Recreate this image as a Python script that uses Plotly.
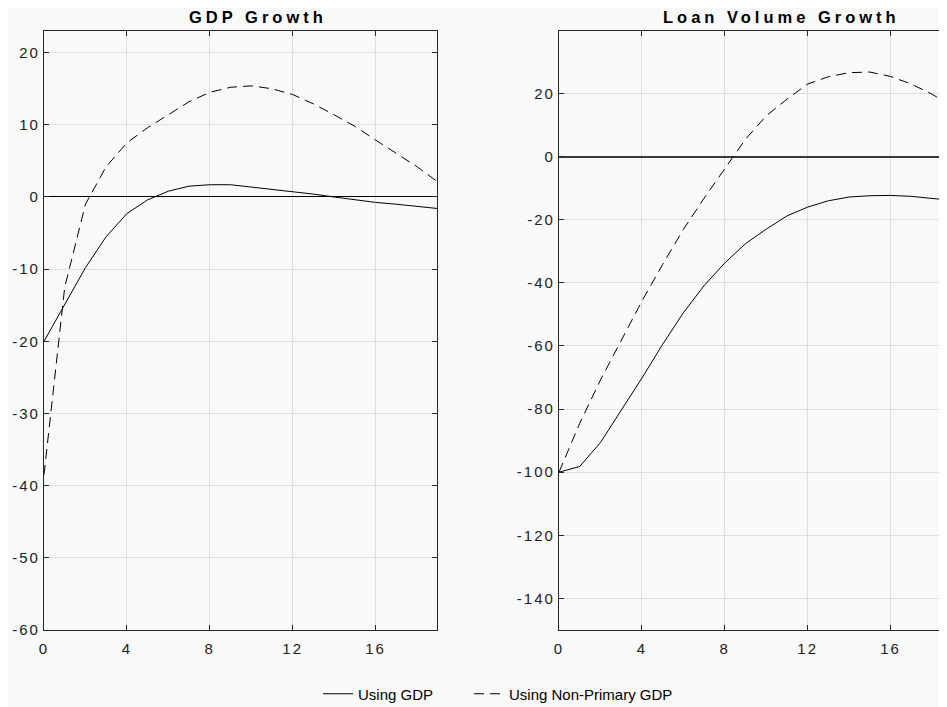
import plotly.graph_objects as go
from plotly.subplots import make_subplots

quarters = list(range(20))

gdp_using_gdp = [-20.0, -14.8, -9.8, -5.5, -2.3, -0.4, 0.8, 1.5, 1.7, 1.7,
                 1.4, 1.1, 0.8, 0.4, 0.0, -0.4, -0.75, -1.0, -1.3, -1.6]
gdp_using_nonprimary = [-38.5, -12.5, -1.0, 4.2, 7.5, 9.6, 11.4, 13.2, 14.5, 15.2,
                        15.4, 15.0, 14.2, 12.9, 11.4, 9.8, 7.9, 6.1, 4.2, 2.1]

loan_using_gdp = [-100.0, -98.2, -90.6, -80.5, -70.2, -59.5, -49.5, -40.9, -33.7, -27.6,
                  -23.0, -18.8, -16.0, -14.0, -12.8, -12.4, -12.3, -12.6, -13.2, -13.9]
loan_using_nonprimary = [-100.0, -84.5, -70.8, -58.2, -45.8, -34.2, -23.1, -13.2, -3.8, 5.5,
                         12.9, 18.2, 23.0, 25.3, 26.6, 26.8, 25.4, 23.0, 19.8, 15.8]

titles = ["GDP Growth", "Loan Volume Growth"]
series_names = ["Using GDP", "Using Non-Primary GDP"]
x_ticks = [0, 4, 8, 12, 16]
gdp_y_ticks = [-60, -50, -40, -30, -20, -10, 0, 10, 20]
loan_y_ticks = [-140, -120, -100, -80, -60, -40, -20, 0, 20]

# page has an 8px body margin: work in page pixels, convert to figure pixels
OFF = 8
PAGE_W, PAGE_H = 947, 707
W, H = PAGE_W - OFF, PAGE_H - OFF
FONT = "Liberation Sans, Arial, sans-serif"
BG = "#f9f9f9"

PLOT_TOP, PLOT_BOTTOM = 31, 630          # page px
L_LEFT, L_RIGHT = 44, 437
R_LEFT = 559
PX_PER_Q = 20.72


def fx(px):
    return (px - OFF) / W


def fy(py):
    top = PLOT_TOP - OFF
    bottom = PLOT_BOTTOM - OFF
    return 1 - ((py - OFF) - top) / (bottom - top)


def spaced(s, px=2):
    return f'<span style="letter-spacing:{px}px">{s}</span>'


fig = make_subplots(rows=1, cols=2)

fig.add_trace(go.Scatter(x=quarters, y=gdp_using_gdp, mode="lines", name=series_names[0],
                         line=dict(color="black", width=1), legendgroup="a", legend="legend"),
              row=1, col=1)
fig.add_trace(go.Scatter(x=quarters, y=gdp_using_nonprimary, mode="lines", name=series_names[1],
                         line=dict(color="black", width=1, dash="10px,6px"), legendgroup="b",
                         legend="legend2"), row=1, col=1)
fig.add_trace(go.Scatter(x=quarters, y=loan_using_gdp, mode="lines", name=series_names[0],
                         line=dict(color="black", width=1), legendgroup="a", showlegend=False),
              row=1, col=2)
fig.add_trace(go.Scatter(x=quarters, y=loan_using_nonprimary, mode="lines", name=series_names[1],
                         line=dict(color="black", width=1, dash="10px,6px"), legendgroup="b",
                         showlegend=False), row=1, col=2)

axis_common = dict(
    showline=True, linecolor="#262626", linewidth=1.3, mirror="ticks",
    ticks="inside", ticklen=5, tickcolor="#262626", tickwidth=1,
    showgrid=True, gridcolor="#dedede", gridwidth=1,
    tickfont=dict(family=FONT, size=15, color="#222"),
)

fig.update_xaxes(**axis_common, zeroline=False, ticklabelstandoff=5)
fig.update_yaxes(**axis_common)

fig.update_layout(
    xaxis=dict(domain=[fx(L_LEFT), fx(L_RIGHT)], range=[0, (L_RIGHT - L_LEFT) / PX_PER_Q],
               tickvals=x_ticks, ticktext=[spaced(t) for t in x_ticks]),
    xaxis2=dict(domain=[fx(R_LEFT), 1.0], range=[0, (PAGE_W - R_LEFT) / PX_PER_Q],
                tickvals=x_ticks, ticktext=[spaced(t) for t in x_ticks]),
    yaxis=dict(range=[-60, 23], tickvals=gdp_y_ticks, ticktext=[spaced(t) for t in gdp_y_ticks],
               zeroline=True, zerolinecolor="black", zerolinewidth=1),
    yaxis2=dict(range=[-150, 39.8], tickvals=loan_y_ticks, ticktext=[spaced(t) for t in loan_y_ticks],
                zeroline=True, zerolinecolor="#3a3a3a", zerolinewidth=1.6),
)

title_centers = [258, 781]
for t, xc in zip(titles, title_centers):
    fig.add_annotation(text="<b>" + spaced(t, 4) + "</b>", x=fx(xc), y=fy(17),
                       xref="paper", yref="paper", xanchor="center", yanchor="middle",
                       showarrow=False, font=dict(family=FONT, size=16.5, color="black"))

legend_common = dict(orientation="h", xanchor="left", y=fy(694), yanchor="middle",
                     font=dict(family=FONT, size=15, color="black"), bgcolor="rgba(0,0,0,0)")

fig.update_layout(
    width=W, height=H,
    margin=dict(l=0, r=0, t=PLOT_TOP - OFF, b=PAGE_H - PLOT_BOTTOM, autoexpand=False),
    paper_bgcolor=BG, plot_bgcolor=BG,
    font=dict(family=FONT, color="black"),
    showlegend=True,
    legend=dict(x=fx(318), **legend_common),
    legend2=dict(x=fx(469), **legend_common),
)

fig.write_html("out.html")
